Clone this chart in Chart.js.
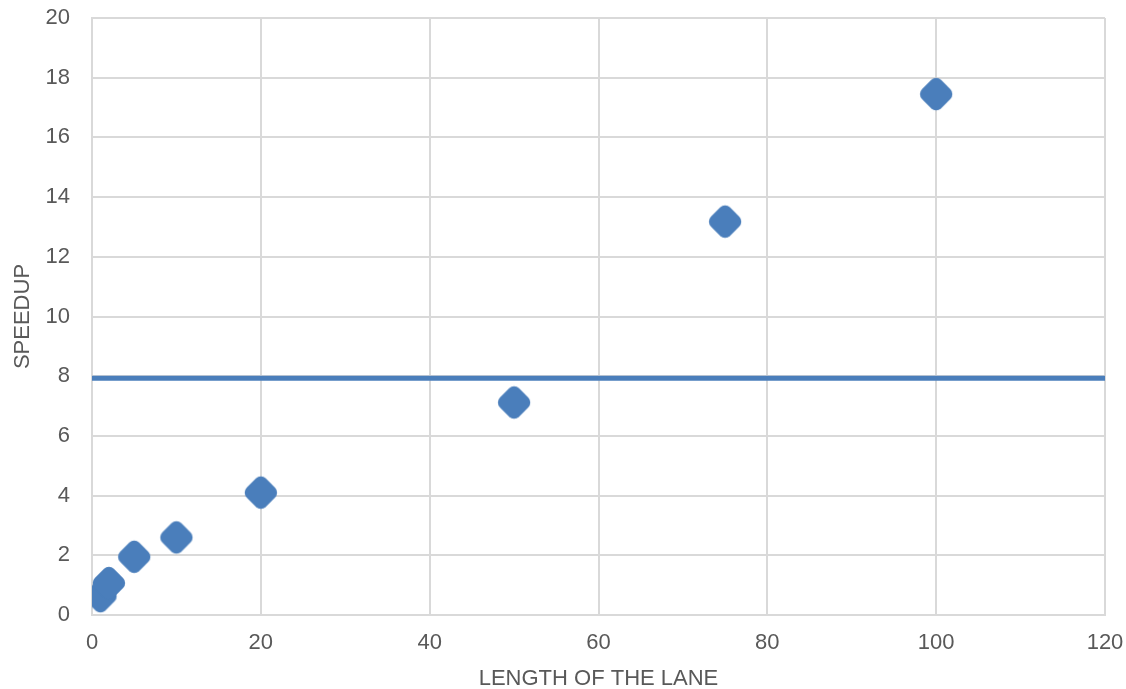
<!DOCTYPE html>
<html>
<head>
<meta charset="utf-8">
<script src="https://cdn.jsdelivr.net/npm/chart.js@4.4.0/dist/chart.umd.min.js"></script>
<style>
  html, body { margin: 0; padding: 0; background: #fff; }
  #wrap { width: 1126px; height: 689px; }
</style>
</head>
<body>
<div id="wrap"><canvas id="grafica"></canvas></div>
<script>
// data
const laneLength = [1, 2, 5, 10, 20, 50, 75, 100];
const speedup = [0.63, 1.07, 1.95, 2.6, 4.1, 7.12, 13.18, 17.45];
const refLineX = [0, 120];
const refLineY = [7.93, 7.93];
const xTicks = [0, 20, 40, 60, 80, 100, 120];
const yTicks = [0, 2, 4, 6, 8, 10, 12, 14, 16, 18, 20];

const azul = "#4a7ebb";
const gris = "#595959";
const fuente = "'Liberation Sans', Arial, sans-serif";

const puntos = laneLength.map((x, i) => ({ x: x, y: speedup[i] }));
const linea = refLineX.map((x, i) => ({ x: x, y: refLineY[i] }));

// rounded diamond marker, drawn once and used as the point style
function crearRombo() {
  const c = document.createElement("canvas");
  c.width = 36;
  c.height = 36;
  const g = c.getContext("2d");
  const s = 27, r = 7;
  g.translate(18, 18);
  g.rotate(Math.PI / 4);
  g.beginPath();
  g.roundRect(-s / 2, -s / 2, s, s, r);
  g.fillStyle = azul;
  g.fill();
  return c;
}
const rombo = crearRombo();

const ctx = document.getElementById("grafica").getContext("2d");
new Chart(ctx, {
  type: "scatter",
  data: {
    datasets: [
      {
        label: "Speedup",
        data: puntos,
        pointStyle: rombo,
        pointRadius: 17,
        pointHoverRadius: 17,
        backgroundColor: azul,
        borderColor: azul,
        order: 1
      },
      {
        label: "Reference",
        type: "line",
        data: linea,
        borderColor: azul,
        borderWidth: 5,
        pointRadius: 0,
        fill: false,
        order: 2
      }
    ]
  },
  options: {
    responsive: true,
    maintainAspectRatio: false,
    animation: false,
    layout: { padding: { top: 16, right: 3, left: 0, bottom: 0 } },
    plugins: {
      legend: { display: false },
      tooltip: { enabled: false }
    },
    scales: {
      x: {
        type: "linear",
        min: 0,
        max: 120,
        afterBuildTicks: (axis) => { axis.ticks = xTicks.map(v => ({ value: v })); },
        afterFit: (axis) => {
          axis.height = 74;
          axis.paddingLeft = 0;
          axis.paddingRight = 21;
        },
        grid: { color: "#d9d9d9", lineWidth: 2, drawTicks: false },
        border: { color: "#d9d9d9", width: 2 },
        ticks: { color: gris, font: { family: fuente, size: 22 }, padding: 15 },
        title: {
          display: true,
          text: "LENGTH OF THE LANE",
          color: gris,
          font: { family: fuente, size: 22 },
          padding: { top: 0, bottom: -3 }
        }
      },
      y: {
        type: "linear",
        min: 0,
        max: 20,
        afterBuildTicks: (axis) => { axis.ticks = yTicks.map(v => ({ value: v })); },
        afterFit: (axis) => {
          axis.width = 92;
          axis.paddingTop = 0;
          axis.paddingBottom = 0;
        },
        grid: { color: "#d9d9d9", lineWidth: 2, drawTicks: false },
        border: { color: "#d9d9d9", width: 2 },
        ticks: { color: gris, font: { family: fuente, size: 22 }, padding: 22 },
        title: {
          display: true,
          text: "SPEEDUP",
          color: gris,
          font: { family: fuente, size: 22 },
          padding: { top: 10, bottom: 0 }
        }
      }
    }
  }
});
</script>
</body>
</html>
